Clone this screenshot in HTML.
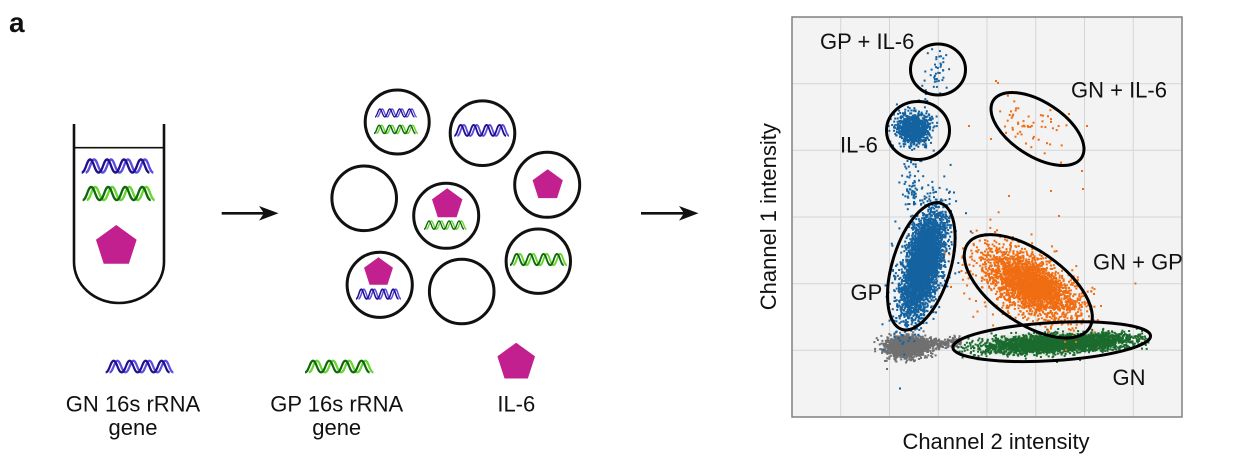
<!DOCTYPE html>
<html><head><meta charset="utf-8">
<style>
html,body{margin:0;padding:0;background:#fff;}
svg{display:block;}
text{font-family:"Liberation Sans",Arial,sans-serif;fill:#111;}
</style></head>
<body>
<svg id="s" width="1243" height="471" viewBox="0 0 1243 471" xmlns="http://www.w3.org/2000/svg">
<defs>
  <g id="hb">
    <path d="M0,12 c4,0 5,-12 8.5,-12 s4.5,12 8.5,12 c4,0 5,-12 8.5,-12 s4.5,12 8.5,12 c4,0 5,-12 8.5,-12 s4.5,12 8.5,12 c4,0 5,-12 8.5,-12 s4.5,12 8.5,12" fill="none" stroke="#5b4de0" stroke-width="2.3" transform="translate(4,0)"/>
    <path d="M0,12 c4,0 5,-12 8.5,-12 s4.5,12 8.5,12 c4,0 5,-12 8.5,-12 s4.5,12 8.5,12 c4,0 5,-12 8.5,-12 s4.5,12 8.5,12 c4,0 5,-12 8.5,-12 s4.5,12 8.5,12" fill="none" stroke="#20108a" stroke-width="2.3"/>
  </g>
  <g id="hg">
    <path d="M0,12 c4,0 5,-12 8.5,-12 s4.5,12 8.5,12 c4,0 5,-12 8.5,-12 s4.5,12 8.5,12 c4,0 5,-12 8.5,-12 s4.5,12 8.5,12 c4,0 5,-12 8.5,-12 s4.5,12 8.5,12" fill="none" stroke="#66d82c" stroke-width="2.3" transform="translate(4,0)"/>
    <path d="M0,12 c4,0 5,-12 8.5,-12 s4.5,12 8.5,12 c4,0 5,-12 8.5,-12 s4.5,12 8.5,12 c4,0 5,-12 8.5,-12 s4.5,12 8.5,12 c4,0 5,-12 8.5,-12 s4.5,12 8.5,12" fill="none" stroke="#12660f" stroke-width="2.3"/>
  </g>
  <polygon id="pent" points="0,-1 0.951,-0.309 0.588,0.809 -0.588,0.809 -0.951,-0.309" fill="#c1208e"/>
  <filter id="blur" x="-50%" y="-50%" width="200%" height="200%"><feGaussianBlur stdDeviation="4"/></filter>
  <clipPath id="pc"><rect x="792" y="17" width="390" height="400"/></clipPath>
</defs>

<!-- panel letter -->
<text x="9" y="32" font-size="28" font-weight="bold">a</text>

<!-- test tube -->
<path d="M74,124 L74,262 A45,41 0 0 0 164,262 L164,124" fill="none" stroke="#111" stroke-width="2.6"/>
<line x1="74" y1="147.7" x2="164" y2="147.7" stroke="#111" stroke-width="1.6"/>
<use href="#hb" transform="translate(81.7,159.5) scale(0.995,1.08)"/>
<use href="#hg" transform="translate(82.7,187) scale(1.0,1.08)"/>
<use href="#pent" transform="translate(116.3,246.4) scale(21.4)"/>

<!-- arrow 1 -->
<line x1="221.7" y1="213.3" x2="268" y2="213.3" stroke="#111" stroke-width="2.6"/>
<path d="M278.5,213.3 L259,206 L264,213.3 L259,220.6 Z" fill="#111"/>

<!-- droplets -->
<g fill="none" stroke="#111" stroke-width="3">
  <circle cx="397.2" cy="122" r="32"/>
  <circle cx="482.5" cy="133.2" r="32.3"/>
  <circle cx="364.2" cy="198.3" r="32.3"/>
  <circle cx="446.2" cy="215.8" r="32.5"/>
  <circle cx="547.2" cy="184.8" r="32.5"/>
  <circle cx="538.3" cy="261.2" r="32.2"/>
  <circle cx="379.7" cy="284.8" r="32.6"/>
  <circle cx="461.7" cy="291.5" r="32.3"/>
</g>
<use href="#hb" transform="translate(375,109) scale(0.58,0.66)"/>
<use href="#hg" transform="translate(374,125.3) scale(0.61,0.68)"/>
<use href="#hb" transform="translate(454.3,125) scale(0.76,0.9)"/>
<use href="#pent" transform="translate(447.2,204.3) scale(16)"/>
<use href="#hg" transform="translate(424,221) scale(0.59,0.68)"/>
<use href="#pent" transform="translate(547.7,185.2) scale(15.9)"/>
<use href="#hg" transform="translate(510,254) scale(0.79,0.92)"/>
<use href="#pent" transform="translate(378.5,272.5) scale(15.2)"/>
<use href="#hb" transform="translate(356,289.3) scale(0.625,0.8)"/>

<!-- legend -->
<use href="#hb" transform="translate(105.7,360.7) scale(0.94,0.97)"/>
<use href="#hg" transform="translate(305,360.7) scale(0.95,0.97)"/>
<use href="#pent" transform="translate(516.2,362.5) scale(19.8)"/>
<g font-size="22" text-anchor="middle">
  <text x="133" y="411.5">GN 16s rRNA</text>
  <text x="133" y="435">gene</text>
  <text x="336.7" y="411.5">GP 16s rRNA</text>
  <text x="336.7" y="435">gene</text>
  <text x="516.3" y="411.5">IL-6</text>
</g>

<!-- arrow 2 -->
<line x1="641" y1="213.3" x2="688" y2="213.3" stroke="#111" stroke-width="2.6"/>
<path d="M698.5,213.3 L679,206 L684,213.3 L679,220.6 Z" fill="#111"/>

<!-- plot -->
<rect x="792" y="17" width="390" height="400" fill="#f3f3f3"/>
<g stroke="#d5d5d5" stroke-width="1">
  <line x1="840.75" y1="17" x2="840.75" y2="417"/>
  <line x1="889.5" y1="17" x2="889.5" y2="417"/>
  <line x1="938.25" y1="17" x2="938.25" y2="417"/>
  <line x1="987" y1="17" x2="987" y2="417"/>
  <line x1="1035.75" y1="17" x2="1035.75" y2="417"/>
  <line x1="1084.5" y1="17" x2="1084.5" y2="417"/>
  <line x1="1133.25" y1="17" x2="1133.25" y2="417"/>
  <line x1="792" y1="83.7" x2="1182" y2="83.7"/>
  <line x1="792" y1="150.3" x2="1182" y2="150.3"/>
  <line x1="792" y1="217" x2="1182" y2="217"/>
  <line x1="792" y1="283.7" x2="1182" y2="283.7"/>
  <line x1="792" y1="350.3" x2="1182" y2="350.3"/>
</g>

<!-- static underlay (dense cores) -->
<g clip-path="url(#pc)" filter="url(#blur)" opacity="0.85">
  <ellipse cx="906" cy="346" rx="16" ry="7" fill="#6c6c6c"/>
  <ellipse cx="922" cy="262" rx="9" ry="42" transform="rotate(13.5 922 262)" fill="#1463a0"/>
  <ellipse cx="912" cy="128" rx="9" ry="8" fill="#1463a0"/>
  <ellipse cx="1030" cy="283" rx="30" ry="13" transform="rotate(30 1030 283)" fill="#f06d12"/>
  <ellipse cx="1055" cy="343" rx="65" ry="5" transform="rotate(-3 1055 343)" fill="#1b6b2e"/>
</g>
<g id="dots" clip-path="url(#pc)"></g>

<rect x="792" y="17" width="390" height="400" fill="none" stroke="#808080" stroke-width="1.5"/>

<!-- gates -->
<g fill="none" stroke="#000" stroke-width="3">
  <ellipse cx="938" cy="69.5" rx="27.5" ry="25.5"/>
  <ellipse cx="918" cy="130.5" rx="31.5" ry="29"/>
  <ellipse cx="1037.5" cy="129" rx="52.6" ry="27" transform="rotate(33 1037.5 129)"/>
  <ellipse cx="921.3" cy="266.3" rx="29" ry="66" transform="rotate(17 921.3 266.3)"/>
  <ellipse cx="1028.3" cy="286.3" rx="74" ry="36" transform="rotate(35 1028.3 286.3)"/>
  <ellipse cx="1051.7" cy="341.7" rx="99" ry="19" transform="rotate(-3.4 1051.7 341.7)"/>
</g>

<g font-size="22">
  <text x="820" y="49">GP + IL-6</text>
  <text x="1071" y="97.5">GN + IL-6</text>
  <text x="840" y="152.7">IL-6</text>
  <text x="850.5" y="300">GP</text>
  <text x="1093" y="269.3">GN + GP</text>
  <text x="1112.5" y="385">GN</text>
  <text x="996" y="449" text-anchor="middle">Channel 2 intensity</text>
  <text transform="translate(776,216.7) rotate(-90)" text-anchor="middle">Channel 1 intensity</text>
</g>
</svg>
<script>
(function(){
  var seed=20240607;
  function R(){seed|=0;seed=seed+0x6D2B79F5|0;var t=Math.imul(seed^seed>>>15,1|seed);t=t+Math.imul(t^t>>>7,61|t)^t;return((t^t>>>14)>>>0)/4294967296;}
  function gauss(){var u=0;while(u===0)u=R();var v=R();return Math.sqrt(-2*Math.log(u))*Math.cos(2*Math.PI*v);}
  function cl(n,cx,cy,sa,sb,ang,sz){var c=Math.cos(ang*Math.PI/180),s=Math.sin(ang*Math.PI/180),o='';
    for(var i=0;i<n;i++){var a=gauss()*sa,b=gauss()*sb;var x=cx+a*c-b*s,y=cy+a*s+b*c;
      o+='<rect x="'+x.toFixed(1)+'" y="'+y.toFixed(1)+'" width="'+sz+'" height="'+sz+'"/>';}
    return o;}
  function pts(list,sz){var o='';for(var i=0;i<list.length;i++){o+='<rect x="'+list[i][0]+'" y="'+list[i][1]+'" width="'+sz+'" height="'+sz+'"/>';}return o;}
  var html='';
  // gray
  var gray=cl(2000,906,346,9.5,4.8,0,2);
  var tail='';for(var i=0;i<320;i++){var x=912+Math.pow(R(),1.3)*48;var y=344-(x-912)*0.06+gauss()*2.8;tail+='<rect x="'+x.toFixed(1)+'" y="'+y.toFixed(1)+'" width="2" height="2"/>';}
  html+='<g fill="#707070">'+gray+tail+pts([[886,368],[884,360],[930,338]],2)+'</g>';
  // green
  var gr='';for(var i=0;i<2800;i++){var x=1058+gauss()*38;if(x<956||x>1148){i--;continue;}var y=343-(x-1050)*0.05+gauss()*4.5;gr+='<rect x="'+x.toFixed(1)+'" y="'+y.toFixed(1)+'" width="2" height="2"/>';}
  html+='<g fill="#1b6b2e">'+gr+'</g>';
  // orange
  html+='<g fill="#f06d12">'+cl(2400,1030,284,26,13,30,2)+cl(90,1025,285,42,22,30,2)+cl(55,1030,128,20,10,33,2)
    +pts([[995,80],[997,82],[1068,113],[968,125],[1082,188],[1050,190],[1081,170],[1058,215],[1086,125],[1008,195],[990,138],[975,300],[1100,305]],2)+'</g>';
  // blue
  var trail='';for(var i=0;i<70;i++){var y=158+R()*48;var x=911+(y-155)*0.05+gauss()*5;trail+='<rect x="'+x.toFixed(1)+'" y="'+y.toFixed(1)+'" width="2" height="2"/>';}
  html+='<g fill="#1463a0">'+cl(3800,922,264,26,8.5,-76.5,2)+cl(110,920,262,40,15,-76.5,2)+cl(900,912,128,8.5,8,0,2)+cl(45,935,72,13,5,-80,2)+trail+'</g>';
  document.getElementById('dots').innerHTML=html;
})();
</script>
</body></html>
